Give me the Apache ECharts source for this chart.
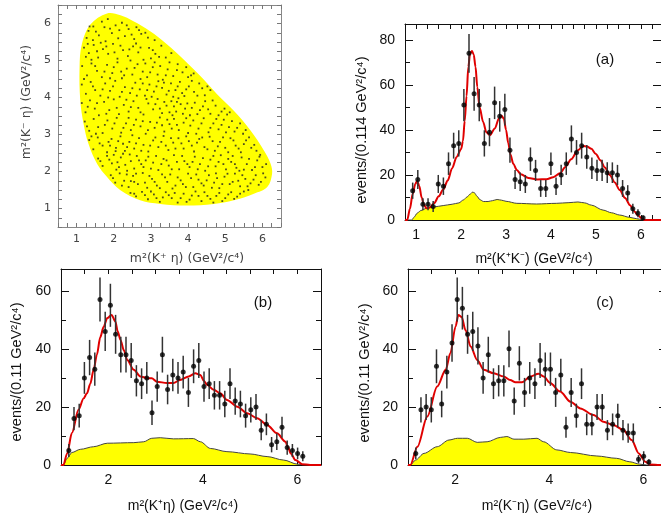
<!DOCTYPE html>
<html>
<head>
<meta charset="utf-8">
<script src="https://cdn.jsdelivr.net/npm/echarts@6/dist/echarts.min.js"></script>
<style>html,body{margin:0;padding:0;background:#fff}#main{width:661px;height:520px}</style>
</head>
<body>
<div id="main"></div>
<script>
// histogram bins: counts per bin (empty bins = 0)
var binLoA = 0.75, binWA = 0.114;
var countsA = [0,13,18,7,7,6,16,15,25,33,34,51,74,56,51,34,39,52,46,49,31,18,17,16,27,22,14,14,25,15,20,25,36,30,33,28,23,22,22,21,21,20,14,12,5,3,1,0,0,0];
var binLoB = 1.0, binWB = 0.11;
var countsB = [0,5,16,17,30,37,33,57,46,55,45,38,38,36,29,28,30,18,27,38,26,31,30,32,25,34,36,27,28,24,24,21,28,22,21,17,19,20,12,14,7,8,13,6,5,4,3,0,0,0];
var binLoC = 1.0, binWC = 0.11;
var countsC = [0,4,19,20,19,34,21,32,42,57,54,45,46,41,30,38,28,29,29,40,22,35,25,30,28,36,33,33,25,31,13,25,17,28,14,14,20,20,12,14,17,12,11,11,2,3,1,0,0,0];

// fit curves (red) and background (yellow)
var fitA = [[0.75,0],[0.8,0],[0.86,5],[0.92,11.5],[0.98,16],[1.02,17.3],[1.07,15],[1.12,10],[1.17,6.8],[1.23,5.2],[1.3,5.6],[1.4,7.5],[1.5,10.5],[1.6,13.5],[1.7,17.5],[1.8,23],[1.9,28],[2.0,31.5],[2.04,35],[2.08,44],[2.12,55],[2.16,68],[2.2,74],[2.24,75],[2.28,73.5],[2.32,68],[2.36,59],[2.41,50],[2.49,43.5],[2.56,39],[2.64,37.6],[2.75,40.6],[2.84,45],[2.9,46.3],[2.95,45],[3.0,40],[3.05,34],[3.1,29],[3.16,25],[3.24,22.2],[3.33,20.3],[3.5,18.6],[3.7,18],[3.9,18.1],[4.05,19],[4.2,20.7],[4.32,23.5],[4.45,27],[4.6,31],[4.72,32.8],[4.8,32.6],[4.9,31.6],[5.0,29.3],[5.1,26.5],[5.2,23.3],[5.31,20],[5.42,16.7],[5.53,13.3],[5.65,9.8],[5.76,6.6],[5.86,3.8],[5.94,2.0],[6.02,0.7],[6.09,0],[6.45,0]];
var bgA = [[0.75,0],[0.9,0],[0.95,1.2],[1.02,3],[1.1,4.2],[1.23,5.2],[1.4,5.8],[1.6,6.4],[1.8,7],[1.95,7.6],[2.05,8.9],[2.13,10.2],[2.2,11.5],[2.26,12.4],[2.3,12],[2.35,10.6],[2.42,9],[2.5,8.2],[2.6,8.2],[2.7,8.6],[2.8,9.1],[2.9,8.8],[3.0,8.3],[3.24,7.4],[3.68,7.1],[4.12,7.4],[4.4,7.7],[4.6,8],[4.75,7.6],[4.9,6.6],[5.16,4.4],[5.35,3.2],[5.53,2.2],[5.75,1.2],[5.9,0.6],[6.05,0.1],[6.1,0],[6.45,0]];
var fitB = [[1.0,0],[1.05,0],[1.13,4],[1.23,11],[1.37,19],[1.48,23],[1.55,24.7],[1.62,28],[1.69,32.8],[1.76,38],[1.83,44],[1.9,47.5],[1.98,50.6],[2.07,51.7],[2.15,49.4],[2.2,46],[2.26,43],[2.33,39.5],[2.4,36.2],[2.54,32.8],[2.68,30.5],[2.82,29.9],[2.92,29.9],[3.03,28.7],[3.24,28.2],[3.38,28.2],[3.52,29.3],[3.7,30.5],[3.84,31.6],[3.95,31],[4.02,29],[4.09,27.6],[4.23,25.9],[4.37,24.7],[4.51,22.4],[4.73,20.1],[4.94,17.8],[5.15,16.1],[5.36,13.8],[5.57,10.9],[5.75,8],[5.8,6.2],[5.86,4],[5.96,1.7],[6.1,0.3],[6.27,0],[6.5,0]];
var bgB = [[1.0,0],[1.05,0],[1.13,2.3],[1.23,4.3],[1.41,5.4],[1.69,6.3],[1.98,7.5],[2.54,7.7],[2.75,8],[2.92,9.2],[3.1,9.4],[3.38,9],[3.8,9.1],[3.95,8],[4.16,5.7],[4.51,4.6],[5.0,3.8],[5.36,2.9],[5.71,1.7],[6.0,0.3],[6.2,0],[6.5,0]];
var fitC = [[1.0,0],[1.05,0],[1.2,6.3],[1.41,16.7],[1.62,27],[1.8,32.8],[1.9,38.5],[2.01,47.7],[2.07,51.7],[2.14,51],[2.22,46.5],[2.33,40.8],[2.47,36.2],[2.61,32.8],[2.82,31.6],[3.03,30.5],[3.17,29.3],[3.28,28.5],[3.42,28.5],[3.6,30.5],[3.77,31.4],[3.88,30.5],[4.02,28.2],[4.23,25.3],[4.45,21.8],[4.66,19.5],[4.94,17.2],[5.15,14.9],[5.36,13.8],[5.57,12.1],[5.75,8.6],[5.9,4],[6.04,1.1],[6.14,0.2],[6.35,0],[6.5,0]];
var bgC = [[1.0,0],[1.05,0],[1.16,1.7],[1.34,4],[1.62,6.3],[1.87,8.6],[2.05,9.2],[2.26,9.2],[2.47,7.8],[2.68,8],[2.96,9.5],[3.1,9.8],[3.25,8.9],[3.46,8.9],[3.74,9.2],[3.88,8],[4.16,5.2],[4.45,4.3],[5.01,3.1],[5.43,2.3],[5.71,1.1],[5.92,0.3],[6.07,0],[6.5,0]];

// dalitz plot: allowed region outline and events
var edgeX = [1.82,1.37,1.14,1.08,1.1,1.19,1.32,1.55,1.82,2.18,2.71,3.25,3.97,4.69,5.23,5.77,6.13,6.26,6.22,6.04,5.68,5.23,4.78,4.33,3.88,3.43,2.98,2.53,2.18];
var edgeY = [6.27,5.97,5.43,4.81,3.91,3.28,2.75,2.21,1.85,1.49,1.22,1.12,1.08,1.12,1.22,1.4,1.58,1.94,2.21,2.57,3.11,3.64,4.09,4.58,5.03,5.44,5.79,6.06,6.22];
var dalitzDots = [
[1.35,5.92],[1.52,5.78],[1.68,6.05],[1.84,6.12],[2.05,5.95],[2.22,6.02],[2.4,5.85],[2.61,5.9],[1.27,5.61],[1.44,5.55],[1.6,5.68],[1.78,5.52],[1.95,5.74],[2.12,5.6],[2.3,5.66],[2.55,5.58],[2.74,5.72],[2.92,5.62],[3.1,5.55],[1.32,5.8],[1.9,5.86],[2.48,5.7],
[1.2,5.35],[1.33,5.2],[1.46,5.42],[1.58,5.08],[1.71,5.31],[1.85,5.18],[1.98,5.45],[2.1,5.05],[2.25,5.28],[2.38,5.12],[2.52,5.38],[2.66,5.22],[2.8,5.02],[2.95,5.34],[3.12,5.18],[3.28,5.4],[3.4,5.08],[1.4,5.02],[2.02,5.22],[2.6,5.46],[3.0,5.06],[1.65,5.48],[2.45,5.0],[3.55,5.2],
[1.15,4.85],[1.28,4.6],[1.4,4.92],[1.55,4.72],[1.68,4.55],[1.82,4.88],[1.96,4.66],[2.1,4.95],[2.22,4.52],[2.35,4.78],[2.5,4.62],[2.64,4.9],[2.78,4.7],[2.9,4.55],[3.05,4.82],[3.18,4.62],[3.32,4.48],[3.45,4.76],[3.6,4.58],[3.72,4.9],[3.85,4.68],[4.0,4.55],[4.15,4.65],[2.2,4.7],[3.1,4.95],[1.9,4.52],[2.85,4.92],[3.5,4.95],
[1.14,4.35],[1.25,4.1],[1.38,4.42],[1.5,4.2],[1.64,4.05],[1.77,4.38],[1.9,4.18],[2.04,4.45],[2.16,4.02],[2.3,4.28],[2.44,4.12],[2.58,4.4],[2.7,4.22],[2.84,4.05],[2.96,4.35],[3.08,4.16],[3.2,4.44],[3.3,4.26],[3.42,4.08],[3.54,4.38],[3.66,4.2],[3.78,4.42],[3.9,4.04],[4.02,4.3],[4.16,4.15],[4.3,4.38],[4.45,4.06],[4.6,4.2],[3.35,4.4],[3.6,4.02],[2.9,4.2],[3.95,4.22],[1.85,4.0],[2.62,4.05],
[1.14,3.85],[1.24,3.6],[1.36,3.92],[1.49,3.7],[1.6,3.52],[1.74,3.88],[1.88,3.66],[2.0,3.95],[2.14,3.55],[2.27,3.8],[2.4,3.62],[2.53,3.9],[2.66,3.72],[2.8,3.54],[2.93,3.84],[3.06,3.68],[3.18,3.96],[3.3,3.58],[3.42,3.78],[3.55,3.9],[3.68,3.62],[3.8,3.82],[3.92,3.7],[4.05,3.52],[4.18,3.86],[4.32,3.66],[4.46,3.9],[4.6,3.56],[4.74,3.78],[4.9,3.62],[5.05,3.54],[3.74,3.98],[3.5,3.6],[3.86,3.56],[3.62,3.76],[4.1,3.72],
[1.22,3.35],[1.34,3.1],[1.46,3.42],[1.58,3.2],[1.7,3.04],[1.83,3.38],[1.96,3.16],[2.08,3.45],[2.2,3.05],[2.33,3.3],[2.46,3.12],[2.6,3.4],[2.72,3.22],[2.86,3.02],[2.98,3.34],[3.1,3.18],[3.24,3.46],[3.36,3.08],[3.5,3.28],[3.62,3.42],[3.75,3.12],[3.88,3.32],[4.0,3.04],[4.14,3.38],[4.28,3.16],[4.42,3.44],[4.55,3.06],[4.68,3.3],[4.82,3.14],[4.96,3.4],[5.1,3.2],[5.25,3.08],[5.4,3.3],[5.55,3.12],[2.4,3.45],[3.3,3.25],
[1.34,2.85],[1.45,2.6],[1.57,2.92],[1.7,2.7],[1.82,2.52],[1.94,2.88],[2.06,2.64],[2.18,2.95],[2.3,2.56],[2.42,2.8],[2.55,2.62],[2.68,2.9],[2.8,2.72],[2.93,2.54],[3.06,2.84],[3.2,2.66],[3.34,2.96],[3.47,2.58],[3.6,2.78],[3.74,2.9],[3.88,2.62],[4.02,2.82],[4.16,2.54],[4.3,2.88],[4.44,2.66],[4.58,2.94],[4.72,2.56],[4.86,2.8],[5.0,2.64],[5.14,2.9],[5.28,2.7],[5.42,2.52],[5.56,2.84],[5.7,2.64],[5.84,2.56],[2.25,2.75],[2.05,2.55],[2.5,2.98],[1.9,2.7],
[1.58,2.35],[1.7,2.15],[1.82,2.42],[1.95,2.22],[2.07,2.05],[2.19,2.38],[2.31,2.18],[2.43,2.46],[2.55,2.08],[2.68,2.3],[2.8,2.12],[2.93,2.4],[3.06,2.24],[3.2,2.04],[3.34,2.34],[3.48,2.16],[3.62,2.44],[3.76,2.06],[3.9,2.28],[4.04,2.12],[4.18,2.4],[4.32,2.2],[4.46,2.02],[4.6,2.32],[4.74,2.14],[4.88,2.44],[5.02,2.06],[5.16,2.26],[5.3,2.1],[5.44,2.38],[5.58,2.2],[5.72,2.04],[5.86,2.3],[6.0,2.12],[2.1,2.25],[2.36,2.02],[2.25,2.48],[5.2,2.42],[5.5,2.05],[4.95,2.2],
[1.92,1.9],[2.04,1.7],[2.16,1.95],[2.28,1.75],[2.4,1.58],[2.52,1.88],[2.65,1.66],[2.78,1.96],[2.9,1.56],[3.03,1.8],[3.16,1.62],[3.3,1.92],[3.44,1.72],[3.58,1.54],[3.72,1.84],[3.86,1.66],[4.0,1.94],[4.14,1.58],[4.28,1.78],[4.42,1.62],[4.56,1.9],[4.7,1.7],[4.84,1.55],[4.98,1.86],[5.12,1.66],[5.26,1.94],[5.4,1.6],[5.54,1.8],[5.68,1.68],[5.82,1.9],[5.96,1.72],[6.08,1.84],[2.35,1.92],[5.35,1.75],[2.55,1.72],[4.75,1.95],
[2.45,1.42],[2.6,1.33],[2.76,1.45],[2.92,1.25],[3.08,1.38],[3.24,1.18],[3.4,1.44],[3.56,1.28],[3.72,1.16],[3.88,1.4],[4.04,1.24],[4.2,1.46],[4.36,1.2],[4.52,1.34],[4.68,1.16],[4.84,1.42],[5.0,1.28],[5.16,1.44],[5.32,1.32],[5.5,1.46],[3.15,1.28],[4.1,1.35],
[1.45,5.92],[1.75,5.9],[2.15,5.82],[2.35,5.95],[2.68,5.82],[2.85,5.75],[1.3,5.45],[1.55,5.25],[1.8,5.38],[2.18,5.4],[2.42,5.3],[2.72,5.35],[3.05,5.28],[3.22,5.1],[1.25,5.1],[1.5,4.85],[1.75,4.7],[2.0,4.82],[2.28,4.6],[2.56,4.8],[2.72,4.5],[2.98,4.68],[3.25,4.85],[3.4,4.6],[3.7,4.74],[3.95,4.82],[4.08,4.6],
[1.2,4.5],[1.44,4.3],[1.7,4.22],[1.98,4.3],[2.22,4.15],[2.5,4.25],[2.78,4.38],[3.02,4.02],[3.15,4.3],[3.48,4.18],[3.72,4.3],[3.84,4.12],[4.1,4.45],[4.25,4.05],[4.38,4.25],[4.52,4.3],
[1.3,3.75],[1.55,3.85],[1.8,3.56],[2.08,3.72],[2.34,3.94],[2.46,3.74],[2.72,3.6],[2.88,3.96],[3.12,3.82],[3.24,3.7],[3.36,3.88],[3.58,3.52],[3.7,3.88],[3.98,3.84],[4.25,3.55],[4.4,3.76],[4.54,3.68],[4.66,3.92],[4.82,3.52],[4.98,3.7],[5.12,3.6],
[1.28,3.22],[1.52,3.02],[1.76,3.26],[2.02,3.3],[2.26,3.18],[2.54,3.26],[2.78,3.36],[2.92,3.12],[3.16,3.32],[3.44,3.4],[3.56,3.16],[3.7,3.26],[3.95,3.44],[4.06,3.24],[4.22,3.02],[4.36,3.3],[4.6,3.18],[4.76,3.42],[4.9,3.26],[5.02,3.06],[5.18,3.36],[5.32,3.18],[5.48,3.02],
[1.4,2.95],[1.62,2.76],[1.86,2.8],[2.12,2.82],[2.36,2.66],[2.6,2.76],[2.74,2.56],[2.98,2.7],[3.12,2.92],[3.28,2.8],[3.4,2.7],[3.54,2.9],[3.66,2.62],[3.82,2.76],[3.95,2.95],[4.1,2.7],[4.24,2.78],[4.38,2.92],[4.52,2.6],[4.66,2.82],[4.8,2.68],[4.94,2.92],[5.08,2.52],[5.22,2.84],[5.36,2.62],[5.5,2.74],[5.64,2.92],[5.78,2.72],[5.92,2.4],
[1.64,2.28],[1.88,2.32],[2.0,2.45],[2.14,2.12],[2.46,2.28],[2.62,2.42],[2.74,2.2],[2.86,2.3],[3.0,2.08],[3.14,2.42],[3.28,2.2],[3.42,2.3],[3.56,2.06],[3.7,2.26],[3.84,2.42],[3.98,2.2],[4.12,2.26],[4.26,2.06],[4.4,2.36],[4.54,2.14],[4.68,2.42],[4.82,2.26],[5.08,2.34],[5.26,2.2],[5.38,2.02],[5.64,2.34],[5.8,2.12],[5.94,2.45],[6.1,2.2],
[1.98,1.82],[2.22,1.62],[2.46,1.74],[2.6,1.94],[2.84,1.7],[2.96,1.88],[3.1,1.72],[3.24,1.55],[3.38,1.84],[3.52,1.92],[3.66,1.62],[3.8,1.76],[3.94,1.58],[4.08,1.82],[4.22,1.92],[4.36,1.68],[4.5,1.76],[4.64,1.56],[4.78,1.82],[4.92,1.66],[5.06,1.94],[5.2,1.72],[5.46,1.9],[5.6,1.6],[5.76,1.78],[5.9,1.64],[6.02,1.95],
[2.55,1.4],[2.84,1.36],[3.0,1.46],[3.32,1.3],[3.48,1.36],[3.64,1.42],[3.8,1.28],[3.96,1.18],[4.28,1.34],[4.44,1.44],[4.6,1.26],[4.76,1.34],[4.92,1.2],[5.08,1.38],[5.24,1.26],[5.4,1.4],[5.62,1.5]
];

var chart = echarts.init(document.getElementById('main'), null, { renderer: 'canvas' });

var SANS = 'Liberation Sans, Arial, sans-serif';

function binPoints(counts, lo, w) {
  var res = [];
  for (var i = 0; i < counts.length; i++) {
    if (counts[i] > 0) res.push([lo + (i + 0.5) * w, counts[i]]);
  }
  return res;
}

function intLabel(v) {
  return Math.abs(v - Math.round(v)) < 1e-6 ? String(Math.round(v)) : '';
}
function evenLabel(v) {
  var r = Math.round(v);
  return (Math.abs(v - r) < 1e-6 && r % 2 === 0) ? String(r) : '';
}

// one pair of axes (main + mirrored) for a frame
function histX(grid, min, max, interval, fmt, pos, showLabel) {
  return {
    type: 'value', gridIndex: grid, min: min, max: max, interval: interval, position: pos,
    axisLine: { show: true, onZero: false, lineStyle: { color: '#111', width: 1 } },
    axisTick: { show: true, inside: true, length: 5, lineStyle: { color: '#111' } },
    axisLabel: { show: showLabel, formatter: fmt, fontSize: 14, color: '#111', fontFamily: SANS, margin: 8,
      showMinLabel: true, showMaxLabel: true },
    splitLine: { show: false }
  };
}
function histY(grid, max, pos, showLabel) {
  return {
    type: 'value', gridIndex: grid, min: 0, max: max, interval: 20, position: pos,
    axisLine: { show: true, onZero: false, lineStyle: { color: '#111', width: 1 } },
    axisTick: { show: true, inside: true, length: 8, lineStyle: { color: '#111' } },
    minorTick: { show: true, splitNumber: 2, length: 5, lineStyle: { color: '#111' } },
    axisLabel: { show: showLabel, fontSize: 14, color: '#111', fontFamily: SANS, margin: 10,
      formatter: function (v) { return v % 20 === 0 ? String(v) : ''; } },
    splitLine: { show: false }
  };
}
function dalitzAxis(kind, pos, showLabel) {
  return {
    type: 'value', gridIndex: 0, min: 0.5, max: 6.5, interval: 0.25, position: pos,
    axisLine: { show: true, onZero: false, lineStyle: { color: '#888', width: 1 } },
    axisTick: { show: true, inside: true, length: 4, lineStyle: { color: '#777' } },
    axisLabel: { show: showLabel, formatter: intLabel, fontSize: 11, color: '#444',
      fontFamily: 'DejaVu Sans, sans-serif', margin: 7 },
    splitLine: { show: false }
  };
}

function errorBars(xi, yi, pts) {
  return {
    type: 'custom', xAxisIndex: xi, yAxisIndex: yi, z: 5, silent: true,
    data: pts,
    renderItem: function (params, api) {
      var x = api.value(0), n = api.value(1), e = Math.sqrt(n);
      var lo = api.coord([x, n - e]), hi = api.coord([x, n + e]);
      return { type: 'line', shape: { x1: lo[0], y1: lo[1], x2: hi[0], y2: hi[1] },
        style: { stroke: '#333', lineWidth: 1.5 } };
    }
  };
}
function markers(xi, yi, pts) {
  return { type: 'scatter', xAxisIndex: xi, yAxisIndex: yi, z: 6, silent: true,
    symbol: 'circle', symbolSize: 5, itemStyle: { color: '#000' }, data: pts };
}
function fitLine(xi, yi, pts) {
  return { type: 'line', xAxisIndex: xi, yAxisIndex: yi, z: 4, silent: true,
    showSymbol: false, smooth: 0.3, smoothMonotone: 'x',
    lineStyle: { color: '#e00000', width: 2 }, data: pts };
}
function bgArea(xi, yi, pts) {
  return { type: 'line', xAxisIndex: xi, yAxisIndex: yi, z: 2, silent: true,
    showSymbol: false, smooth: 0.3, smoothMonotone: 'x',
    lineStyle: { color: '#444', width: 1 },
    areaStyle: { color: '#ffff00', opacity: 1 }, data: pts };
}

var ptsA = binPoints(countsA, binLoA, binWA);
var ptsB = binPoints(countsB, binLoB, binWB);
var ptsC = binPoints(countsC, binLoC, binWC);

function txt(x, y, s, size, rot, color, family) {
  return { type: 'text', x: x, y: y, rotation: rot || 0, z: 20, silent: true,
    style: { text: s, fontSize: size, fontFamily: family || SANS, fill: color || '#111',
      align: 'center', verticalAlign: 'middle' } };
}

var option = {
  animation: false,
  backgroundColor: '#fff',
  grid: [
    { left: 58, top: 5, width: 223, height: 222, outerBoundsMode: 'none' },
    { left: 405, top: 24, width: 256, height: 196, outerBoundsMode: 'none' },
    { left: 61, top: 269, width: 260, height: 196, outerBoundsMode: 'none' },
    { left: 408, top: 269, width: 259, height: 196, outerBoundsMode: 'none' }
  ],
  xAxis: [
    dalitzAxis('x', 'bottom', true),
    dalitzAxis('x', 'top', false),
    histX(1, 0.75, 6.45, 0.25, intLabel, 'bottom', true),
    histX(1, 0.75, 6.45, 0.25, intLabel, 'top', false),
    histX(2, 1.0, 6.5, 0.5, evenLabel, 'bottom', true),
    histX(2, 1.0, 6.5, 0.5, evenLabel, 'top', false),
    histX(3, 1.0, 6.5, 0.5, evenLabel, 'bottom', true),
    histX(3, 1.0, 6.5, 0.5, evenLabel, 'top', false)
  ],
  yAxis: [
    dalitzAxis('y', 'left', true),
    dalitzAxis('y', 'right', false),
    histY(1, 87, 'left', true),
    histY(1, 87, 'right', false),
    histY(2, 67.5, 'left', true),
    histY(2, 67.5, 'right', false),
    histY(3, 67.5, 'left', true),
    histY(3, 67.5, 'right', false)
  ],
  series: [
    {
      type: 'custom', xAxisIndex: 0, yAxisIndex: 0, z: 1, silent: true,
      data: [[edgeX[0], edgeY[0]]],
      renderItem: function (params, api) {
        var pts = edgeX.map(function (x, i) { return api.coord([x, edgeY[i]]); });
        return { type: 'polygon', shape: { points: pts, smooth: 0.35 }, style: { fill: '#ffff00' } };
      }
    },
    { type: 'scatter', xAxisIndex: 0, yAxisIndex: 0, z: 3, silent: true,
      symbol: 'rect', symbolSize: 1.8, itemStyle: { color: '#222' }, data: dalitzDots },

    bgArea(2, 2, bgA), fitLine(2, 2, fitA), errorBars(2, 2, ptsA), markers(2, 2, ptsA),
    bgArea(4, 4, bgB), fitLine(4, 4, fitB), errorBars(4, 4, ptsB), markers(4, 4, ptsB),
    bgArea(6, 6, bgC), fitLine(6, 6, fitC), errorBars(6, 6, ptsC), markers(6, 6, ptsC)
  ],
  graphic: [
    txt(187, 259, 'm²(K⁺ η) (GeV²/c⁴)', 12.5, 0, '#444', 'DejaVu Sans, sans-serif'),
    txt(27, 102, 'm²(K⁻ η) (GeV²/c⁴)', 12.5, Math.PI / 2, '#444', 'DejaVu Sans, sans-serif'),
    txt(534, 259, 'm²(K⁺K⁻) (GeV²/c⁴)', 14),
    txt(362, 130, 'events/(0.114 GeV²/c⁴)', 14.5, Math.PI / 2),
    txt(183, 506, 'm²(K⁺η) (GeV²/c⁴)', 14),
    txt(17, 372, 'events/(0.11 GeV²/c⁴)', 14.5, Math.PI / 2),
    txt(537, 506, 'm²(K⁻η) (GeV²/c⁴)', 14),
    txt(365, 373, 'events/(0.11 GeV²/c⁴)', 14.5, Math.PI / 2),
    txt(605, 60, '(a)', 15),
    txt(263, 303, '(b)', 15),
    txt(605, 303, '(c)', 15)
  ]
};

chart.setOption(option);
</script>
</body>
</html>
